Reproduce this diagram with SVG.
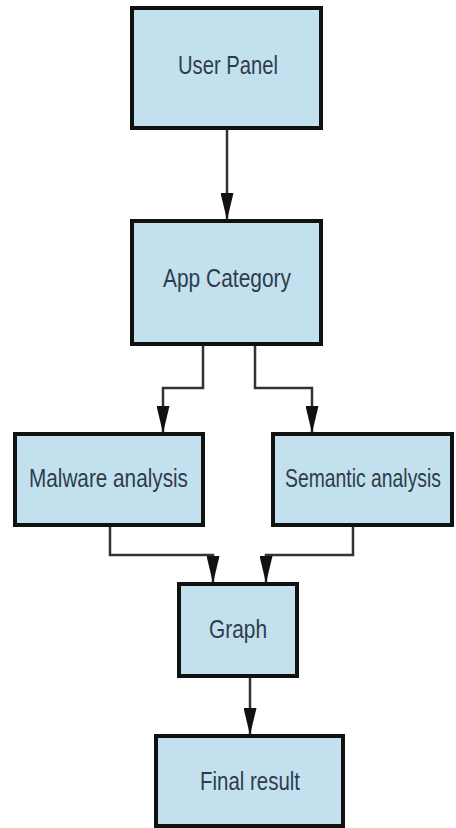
<svg xmlns="http://www.w3.org/2000/svg" width="456" height="828" viewBox="0 0 456 828">
<style>
.box{fill:#c3e0ef;stroke:#111;stroke-width:4}
.lbl{font-family:"Liberation Sans",Arial,sans-serif;font-size:25px;fill:#2e3d4b;text-anchor:middle}
.edge{fill:none;stroke:#333;stroke-width:2.5}
</style>
<defs>
<marker id="ah" markerUnits="userSpaceOnUse" markerWidth="27" markerHeight="13" refX="27" refY="6.5" orient="auto" viewBox="0 0 27 13">
<path d="M0,0 L27,6.5 L0,13 Z" fill="#111"/>
</marker>
</defs>
<rect width="456" height="828" fill="#fff"/>
<g id="connectors">
<path class="edge" d="M227,130 V220" marker-end="url(#ah)"/>
<path class="edge" d="M203,346 V388 H163 V433" marker-end="url(#ah)"/>
<path class="edge" d="M255,346 V388 H312 V433" marker-end="url(#ah)"/>
<path class="edge" d="M110,527 V555 H213 V583" marker-end="url(#ah)"/>
<path class="edge" d="M353,527 V555 H266 V583" marker-end="url(#ah)"/>
<path class="edge" d="M250,678 V735" marker-end="url(#ah)"/>
</g>
<g id="user-panel">
<rect class="box" x="132" y="8" width="189" height="120"/>
<text class="lbl" x="228" y="74" textLength="100" lengthAdjust="spacingAndGlyphs">User Panel</text>
</g>
<g id="app-category">
<rect class="box" x="132" y="221" width="189" height="123"/>
<text class="lbl" x="227" y="287" textLength="128" lengthAdjust="spacingAndGlyphs">App Category</text>
</g>
<g id="malware-analysis">
<rect class="box" x="15" y="434" width="188" height="91"/>
<text class="lbl" x="108.5" y="487" textLength="159" lengthAdjust="spacingAndGlyphs">Malware analysis</text>
</g>
<g id="semantic-analysis">
<rect class="box" x="273" y="434" width="179" height="91"/>
<text class="lbl" x="363" y="487" textLength="156" lengthAdjust="spacingAndGlyphs">Semantic analysis</text>
</g>
<g id="graph">
<rect class="box" x="179" y="584" width="118" height="92"/>
<text class="lbl" x="238" y="638" textLength="58" lengthAdjust="spacingAndGlyphs">Graph</text>
</g>
<g id="final-result">
<rect class="box" x="156" y="736" width="187" height="90"/>
<text class="lbl" x="250" y="790" textLength="100" lengthAdjust="spacingAndGlyphs">Final result</text>
</g>
</svg>
